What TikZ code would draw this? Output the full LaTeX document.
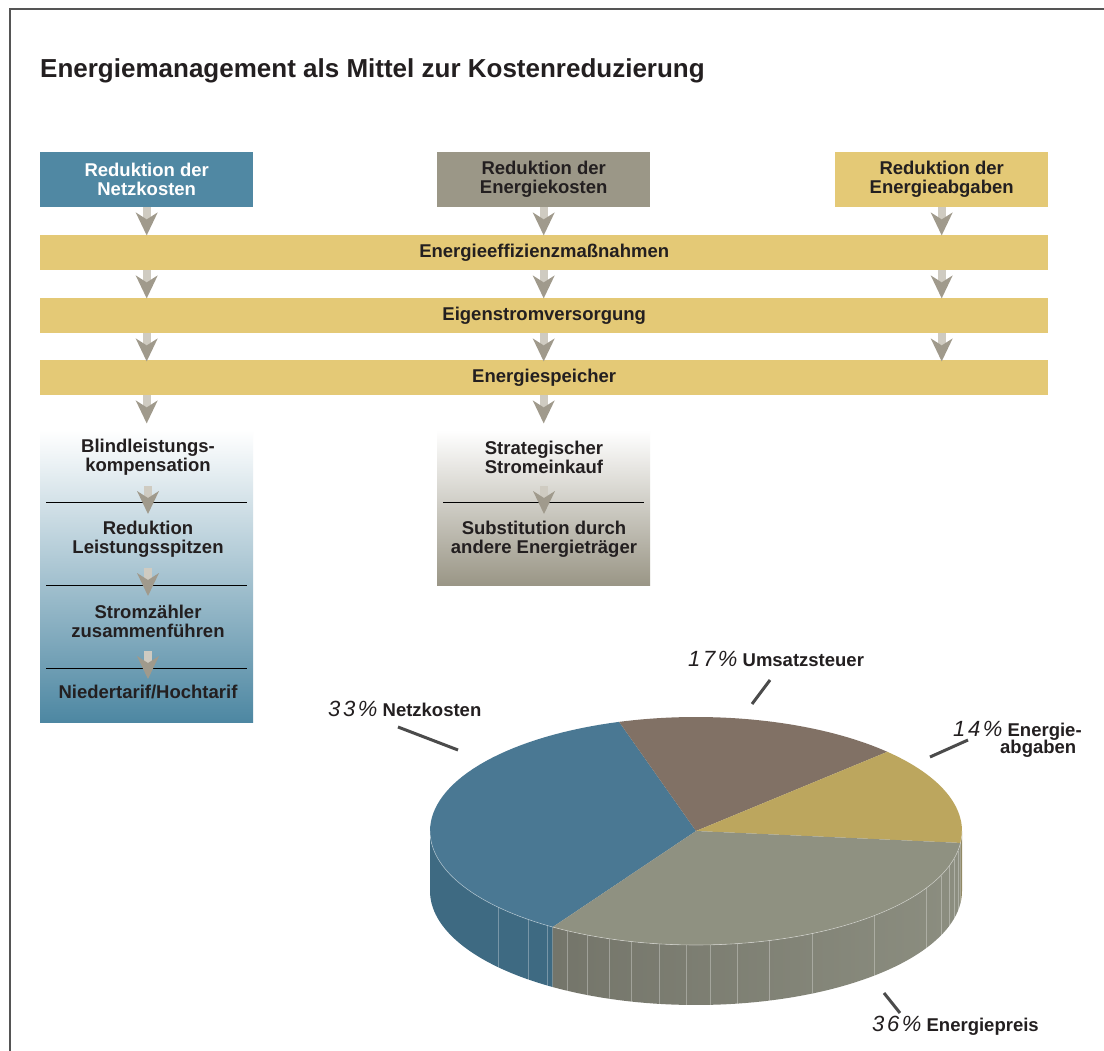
\documentclass[tikz,border=0pt]{standalone}
\usepackage{fontspec}
\setmainfont{Liberation Sans}
\newfontfamily\pctfont[LetterSpace=12]{Liberation Sans}
\usetikzlibrary{calc}
\definecolor{boxblue}{HTML}{5088A3}
\definecolor{boxgrey}{HTML}{9B9787}
\definecolor{boxyel}{HTML}{E4C976}
\definecolor{txt}{HTML}{231F20}
\definecolor{arrhead}{HTML}{A09A8C}
\definecolor{arrstem}{HTML}{CFCBC1}
\definecolor{colblue}{HTML}{4D87A2}
\definecolor{colgrey}{HTML}{9A9686}
\definecolor{pieblue}{HTML}{4A7893}
\definecolor{piebluedk}{HTML}{3E6A82}
\definecolor{piebrown}{HTML}{817165}
\definecolor{pieyel}{HTML}{BCA65E}
\definecolor{piegrey}{HTML}{8F9181}
\definecolor{piegreydk}{HTML}{74756A}
\definecolor{piegreylt}{HTML}{8C8E80}
\definecolor{leadcol}{HTML}{4B4B4B}
\definecolor{framecol}{HTML}{555555}
\newcommand\pctlbl[1]{{\pctfont\itshape\mdseries\fontsize{22}{22}\selectfont #1}}
\begin{document}
\begin{tikzpicture}[x=1pt,y=-1pt,
  topbox/.style={anchor=north west, minimum width=213pt, minimum height=55pt, inner sep=0pt, align=center,
    font=\fontsize{18.5}{19}\selectfont\bfseries, text=txt},
  band/.style={anchor=north west, minimum width=1008pt, minimum height=35pt, inner sep=0pt, fill=boxyel,
    font=\fontsize{18.5}{19}\selectfont\bfseries, text=txt},
  colbox/.style={anchor=north west, minimum width=213pt, inner sep=0pt},
  coltxt/.style={inner sep=0pt, align=center, font=\fontsize{18.5}{19}\selectfont\bfseries, text=txt},
  lab/.style={inner sep=0pt, font=\fontsize{18.5}{19}\selectfont\bfseries, text=txt},
  sep/.style={black, line width=0.8pt},
  leader/.style={leadcol, line width=3pt},
  darr/.pic={
    \fill[arrstem] (-4,0) rectangle (4,12);
    \fill[arrhead] (-11,5) -- (0,12) -- (11,5) -- (0,28) -- cycle;
  }]
\useasboundingbox (0,0) rectangle (1104,1051);
\fill[white] (0,0) rectangle (1104,1051);
\draw[framecol, line width=1.5pt] (10,1051) -- (10,9) -- (1104,9);

% title
\node[anchor=base west, inner sep=0pt, font=\fontsize{26}{28}\selectfont\bfseries, text=txt] (title) at (40,78)
  {Energiemanagement als Mittel zur Kostenreduzierung};

% top boxes
\node[topbox, fill=boxblue, text=white] (nk) at (40,152) {Reduktion der\\Netzkosten};
\node[topbox, fill=boxgrey] (ek) at (437,152) {Reduktion der\\Energiekosten};
\node[topbox, fill=boxyel] (ea) at (835,152) {Reduktion der\\Energieabgaben};

% bands
\node[band] (b1) at (40,235) {Energieeffizienzmaßnahmen};
\node[band] (b2) at (40,298) {Eigenstromversorgung};
\node[band] (b3) at (40,360) {Energiespeicher};

% column boxes
\node[colbox, minimum height=292pt, top color=white, bottom color=colblue] (c1) at (40,430) {};
\node[colbox, minimum height=155pt, top color=white, bottom color=colgrey] (c2) at (437,430) {};

\draw[sep] (46,502) -- (247,502);
\draw[sep] (46,585) -- (247,585);
\draw[sep] (46,668) -- (247,668);
\draw[sep] (443,502) -- (644,502);

\node[coltxt] (t11) at (148,457) {Blindleistungs-\\kompensation};
\node[coltxt] (t12) at (148,539) {Reduktion\\Leistungsspitzen};
\node[coltxt] (t13) at (148,621) {Stromzähler\\zusammenführen};
\node[coltxt] (t14) at (148,692) {Niedertarif/Hochtarif};
\node[coltxt] (t21) at (544,457) {Strategischer\\Stromeinkauf};
\node[coltxt] (t22) at (544,539) {Substitution durch\\andere Energieträger};

% arrows
\pic at (nk.south) {darr};
\pic at (ek.south) {darr};
\pic at (ea.south) {darr};
\pic at (b1.south -| nk.south) {darr};
\pic at (b1.south -| ek.south) {darr};
\pic at (b1.south -| ea.south) {darr};
\pic at (b2.south -| nk.south) {darr};
\pic at (b2.south -| ek.south) {darr};
\pic at (b2.south -| ea.south) {darr};
\pic at (b3.south -| nk.south) {darr};
\pic at (b3.south -| ek.south) {darr};
\coordinate (a11) at (148,486);
\coordinate (a12) at (148,568);
\coordinate (a13) at (148,651);
\coordinate (a21) at (544,486);
\pic at (a11) {darr};
\pic at (a12) {darr};
\pic at (a13) {darr};
\pic at (a21) {darr};

% pie
\def\cx{696}\def\cy{831}\def\rx{266}\def\ry{114}\def\th{60}
\fill[piebluedk] plot[domain=180:237.4,samples=40] ({\cx+\rx*cos(\x)},{\cy-\ry*sin(\x)})
  -- plot[domain=237.4:180,samples=40] ({\cx+\rx*cos(\x)},{\cy+\th-\ry*sin(\x)}) -- cycle;
\shade[left color=piegreydk, right color=piegreylt] plot[domain=237.4:354,samples=60] ({\cx+\rx*cos(\x)},{\cy-\ry*sin(\x)})
  -- plot[domain=354:237.4,samples=60] ({\cx+\rx*cos(\x)},{\cy+\th-\ry*sin(\x)}) -- cycle;
\fill[piegreydk!60!pieyel] plot[domain=354:360,samples=10] ({\cx+\rx*cos(\x)},{\cy-\ry*sin(\x)})
  -- plot[domain=360:354,samples=10] ({\cx+\rx*cos(\x)},{\cy+\th-\ry*sin(\x)}) -- cycle;
\foreach \a in {222,231,236,241,246,251,256,262,268,273,279,286,296,312,330,337,342,346,350}
  \draw[white, opacity=.3, line width=.7pt] ({\cx+\rx*cos(\a)},{\cy-\ry*sin(\a)}) -- ++(0,\th);
\fill[pieblue] (\cx,\cy) -- plot[domain=106.8:237.4,samples=60] ({\cx+\rx*cos(\x)},{\cy-\ry*sin(\x)}) -- cycle;
\fill[piebrown] (\cx,\cy) -- plot[domain=44:106.8,samples=40] ({\cx+\rx*cos(\x)},{\cy-\ry*sin(\x)}) -- cycle;
\fill[pieyel] (\cx,\cy) -- plot[domain=-6:44,samples=40] ({\cx+\rx*cos(\x)},{\cy-\ry*sin(\x)}) -- cycle;
\fill[piegrey] (\cx,\cy) -- plot[domain=237.4:354,samples=60] ({\cx+\rx*cos(\x)},{\cy-\ry*sin(\x)}) -- cycle;
\draw[white, opacity=.45, line width=.6pt] plot[domain=180:360,samples=90] ({\cx+\rx*cos(\x)},{\cy-\ry*sin(\x)});

% labels
\node[lab, anchor=base west] (l33) at (328,716) {\pctlbl{33\%} Netzkosten};
\node[lab, anchor=base west] (l17) at (688,666) {\pctlbl{17\%} Umsatzsteuer};
\node[lab, anchor=base west] (l14) at (953,736) {\pctlbl{14\%} Energie-};
\node[lab, anchor=base west] (l14b) at (1000,753) {abgaben};
\node[lab, anchor=base west] (l36) at (872,1031) {\pctlbl{36\%} Energiepreis};

\coordinate (n33a) at (398,727); \coordinate (n33b) at (458,750);
\coordinate (n17a) at (770,680); \coordinate (n17b) at (752,704);
\coordinate (n14a) at (968,740); \coordinate (n14b) at (930,757);
\coordinate (n36a) at (884,993); \coordinate (n36b) at (900,1013);
\draw[leader] (n33a) -- (n33b);
\draw[leader] (n17a) -- (n17b);
\draw[leader] (n14a) -- (n14b);
\draw[leader] (n36a) -- (n36b);
\end{tikzpicture}
\end{document}
